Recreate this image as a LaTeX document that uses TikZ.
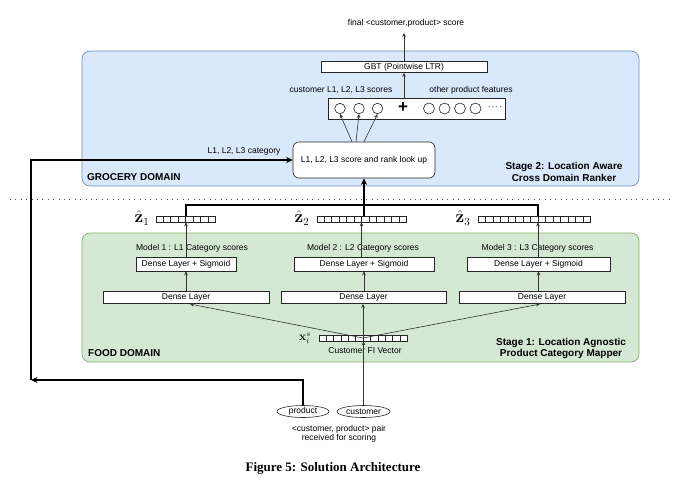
\documentclass[tikz,border=0pt]{standalone}
\usepackage[no-math]{fontspec}
\setmainfont{Liberation Sans}
\newfontfamily\capfont{Liberation Serif}
\usepackage{amsmath}
\usetikzlibrary{arrows.meta,shapes.geometric,calc}
\definecolor{bluefill}{HTML}{DAE8FC}
\definecolor{blueline}{HTML}{6C8EBF}
\definecolor{greenfill}{HTML}{D5E8D4}
\definecolor{greenline}{HTML}{82B366}
\newcommand\vecsep[2]{\pgfmathtruncatemacro\vsm{#2-1}\foreach \k in {1,...,\vsm}{\draw[cellline] ($(#1.south west)!{\k/#2}!(#1.south east)$) -- ($(#1.north west)!{\k/#2}!(#1.north east)$);}}
\tikzset{
  txt/.style={inner sep=0pt, font=\fontsize{8.5}{10}\selectfont},
  boldtxt/.style={inner sep=0pt, font=\bfseries\fontsize{10}{11.5}\selectfont, align=center},
  wbox/.style={draw=black!85, fill=white, line width=0.6pt, inner sep=0pt, font=\fontsize{8.5}{10}\selectfont},
  lookbox/.style={wbox, rounded corners=6pt},
  bluebox/.style={draw=blueline, fill=bluefill, rounded corners=8pt, line width=0.7pt, inner sep=0pt},
  greenbox/.style={draw=greenline, fill=greenfill, rounded corners=8pt, line width=0.7pt, inner sep=0pt},
  vecbox/.style={draw=black!85, fill=white, line width=0.5pt, inner sep=0pt, minimum height=6pt},
  cellline/.style={draw=black!85, line width=0.5pt},
  circ/.style={circle, draw=black!85, fill=white, line width=0.6pt, inner sep=0pt},
  ell/.style={ellipse, draw=black!85, fill=white, line width=0.6pt, inner sep=0pt, font=\fontsize{8.5}{10}\selectfont},
  arr/.style={-{Stealth[length=4pt,width=3.6pt]}, line width=0.6pt, draw=black!80},
  thickarr/.style={-{Stealth[length=6.5pt,width=6pt]}, line width=1.5pt},
  thickline/.style={line width=1.5pt},
  mathlbl/.style={inner sep=0pt, font=\fontsize{16}{18}\selectfont},
}
\begin{document}
\begin{tikzpicture}[x=1pt,y=-1pt]
\useasboundingbox (0,0) rectangle (680,491);

% containers
\node[bluebox, minimum width=557pt, minimum height=135pt] (grocery) at (360.5,118.5) {};
\node[greenbox, minimum width=557pt, minimum height=129pt] (food) at (360.5,297.5) {};
\draw[black!70, line width=1pt, dash pattern=on 0.8pt off 4.6pt] (10,199) -- (670,199);

% stage 2
\node[txt] (final) at (406,23) {final <customer,product> score};
\node[wbox, minimum width=166pt, minimum height=11pt] (gbt) at (404,67) {GBT (Pointwise LTR)};
\node[txt] (cscores) at (341,90) {customer L1, L2, L3 scores};
\node[txt] (ofeat) at (471,90) {other product features};
\node[wbox, minimum width=177pt, minimum height=21pt] (feat) at (416.5,108.5) {};
\node[circ, minimum size=10.5pt] (c1) at (340,108.5) {};
\node[circ, minimum size=10.5pt] (c2) at (359,108.5) {};
\node[circ, minimum size=10.5pt] (c3) at (377.5,108.5) {};
\node[inner sep=0pt, font=\bfseries\fontsize{17}{17}\selectfont] (plus) at (403,108) {+};
\node[circ, minimum size=11pt] (c4) at (429,108.5) {};
\node[circ, minimum size=11pt] (c5) at (444.5,108.5) {};
\node[circ, minimum size=11pt] (c6) at (460,108.5) {};
\node[circ, minimum size=11pt] (c7) at (475.5,108.5) {};
\node[txt] (dots) at (495,108) {·\kern1pt·\kern1pt·\kern1pt·};
\node[lookbox, minimum width=142pt, minimum height=36pt] (look) at (364,160) {L1, L2, L3 score and rank look up};
\node[txt] (catlbl) at (244,151) {L1, L2, L3 category};
\node[boldtxt, anchor=west] (grocerylbl) at (87,177.5) {GROCERY DOMAIN};
\node[boldtxt] (stage2) at (564,172) {Stage 2: Location Aware\\Cross Domain Ranker};

\draw[arr] (gbt.north) -- (gbt.north |- 0,33);
\draw[arr] (gbt.south |- feat.north) -- (gbt.south);
\draw[arr] ([xshift=-12pt]look.north) -- (c1.south);
\draw[arr] ([xshift=-8pt]look.north) -- (c2.south);
\draw[arr] ([xshift=0pt]look.north) -- (c3.south);

% z vectors
\node[vecbox, minimum width=59pt] (z1) at (185.5,219) {};
\node[vecbox, minimum width=89pt] (z2) at (361.5,219) {};
\node[vecbox, minimum width=112pt] (z3) at (534,219) {};
\vecsep{z1}{8}
\vecsep{z2}{12}
\vecsep{z3}{15}
\node[mathlbl] (z1l) at (142,218) {$\hat{\mathbf{z}}_1$};
\node[mathlbl] (z2l) at (302,218) {$\hat{\mathbf{z}}_2$};
\node[mathlbl] (z3l) at (463,218) {$\hat{\mathbf{z}}_3$};

\coordinate (b1) at (186,205);
\coordinate (b3) at (538,205);
\draw[thickline] (z1.north -| b1) -- (b1) -- (b3) -- (z3.north -| b3);
\draw[thickarr] (z2.north -| look.south) -- (look.south);

% stage 1
\node[txt] (m1) at (192,248) {Model 1 : L1 Category scores};
\node[txt] (m2) at (363,248) {Model 2 : L2 Category scores};
\node[txt] (m3) at (537.5,248) {Model 3 : L3 Category scores};
\node[wbox, minimum width=100pt, minimum height=14pt] (dls1) at (186,264) {Dense Layer + Sigmoid};
\node[wbox, minimum width=140pt, minimum height=14pt] (dls2) at (364,264) {Dense Layer + Sigmoid};
\node[wbox, minimum width=143pt, minimum height=14pt] (dls3) at (538.5,264) {Dense Layer + Sigmoid};
\node[wbox, minimum width=166pt, minimum height=12.5pt] (d1) at (186,297.5) {Dense Layer};
\node[wbox, minimum width=165pt, minimum height=12.5pt] (d2) at (363.5,297.5) {Dense Layer};
\node[wbox, minimum width=166pt, minimum height=12.5pt] (d3) at (542,297.5) {Dense Layer};

\draw[arr] (dls1.north) -- (dls1.north |- z1.south);
\draw[arr] (dls2.north -| z2.south) -- (z2.south);
\draw[arr] (dls3.north -| b3) -- (z3.south -| b3);
\draw[arr] (d1.north) -- (d1.north |- dls1.south);
\draw[arr] (d2.north -| dls2.south) -- (dls2.south);
\draw[arr] (d3.north -| dls3.south) -- (dls3.south);

\node[vecbox, minimum width=88pt] (xv) at (363,338) {};
\vecsep{xv}{12}
\node[inner sep=0pt, font=\fontsize{11.5}{12}\selectfont] (xl) at (305,338) {$\mathbf{x}_i^s$};
\node[txt] (fi) at (365,350.5) {Customer FI Vector};
\node[boldtxt, anchor=west] (foodlbl) at (88,353.5) {FOOD DOMAIN};
\node[boldtxt] (stage1) at (561,348.5) {Stage 1: Location Agnostic\\Product Category Mapper};

\draw[arr] (xv.center) -- ([xshift=4pt]d1.south);
\draw[arr] (xv.center) -- (xv.center |- d2.south);
\draw[arr] (xv.center) -- ([xshift=-2pt]d3.south);

% inputs
\node[ell, minimum width=52pt, minimum height=12pt] (prod) at (303,411.5) {product};
\node[ell, minimum width=53pt, minimum height=12pt] (cust) at (363.5,411.5) {customer};
\node[txt, align=center, font=\fontsize{8.5}{9}\selectfont] (pair) at (339,434) {<customer, product> pair\\received for scoring};

\draw[arr] (cust.north) -- (cust.north |- xv.south);
\coordinate (corner) at (31,380);
\draw[thickarr] (prod.north) |- (corner);
\draw[thickarr] (corner) |- (look.west);

\node[inner sep=0pt, font=\capfont\bfseries\fontsize{13}{15}\selectfont] (cap) at (333,468) {Figure 5: Solution Architecture};
\end{tikzpicture}
\end{document}
